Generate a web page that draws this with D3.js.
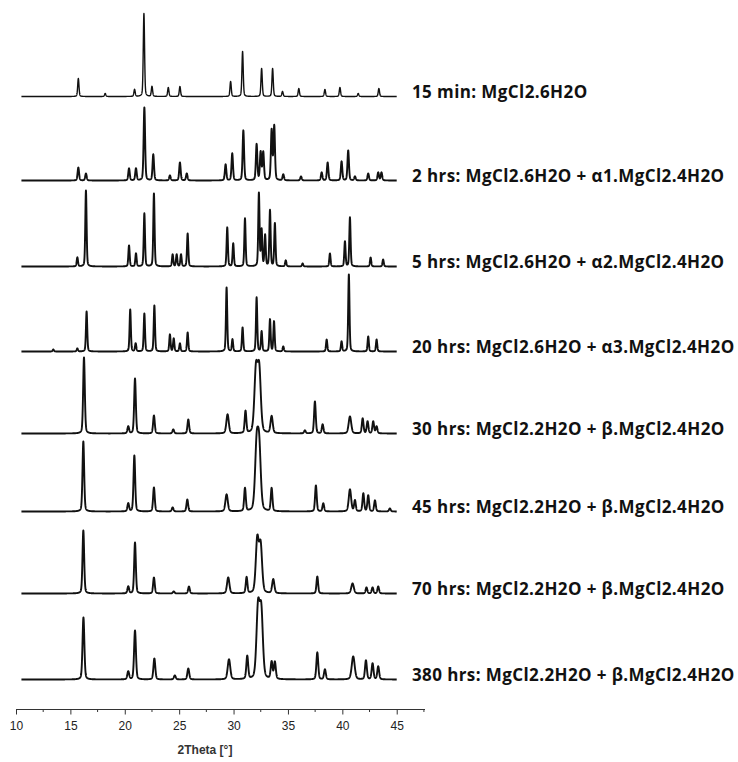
<!DOCTYPE html>
<html lang="en">
<head>
    <meta charset="UTF-8">
    <title>XRD patterns MgCl2 hydrates</title>
    <script src="https://d3js.org/d3.v7.min.js"></script>
    <style>
        body { margin: 0; background: #fff; }
    </style>
</head>
<body>
    <script>
        var w = 738;
        var h = 762;

        // sample labels, top to bottom
        var labels = [
            "15 min: MgCl2.6H2O",
            "2 hrs: MgCl2.6H2O + \u03b11.MgCl2.4H2O",
            "5 hrs: MgCl2.6H2O + \u03b12.MgCl2.4H2O",
            "20 hrs: MgCl2.6H2O + \u03b13.MgCl2.4H2O",
            "30 hrs: MgCl2.2H2O + \u03b2.MgCl2.4H2O",
            "45 hrs: MgCl2.2H2O + \u03b2.MgCl2.4H2O",
            "70 hrs: MgCl2.2H2O + \u03b2.MgCl2.4H2O",
            "380 hrs: MgCl2.2H2O + \u03b2.MgCl2.4H2O"
        ];

        // vertical offset of each pattern (stacking, in intensity units)
        var offsets = [0, 84, 170, 255, 337, 415, 497, 583];

        // typical peak half width (deg) for each pattern
        var halfWidths = [0.07, 0.08, 0.07, 0.07, 0.09, 0.09, 0.09, 0.1];

        // peak lists [2theta, intensity, optional half width]
        var p15min = [[15.73, 18], [18.2, 3], [20.9, 7], [21.76, 83], [22.5, 10], [24.0, 9], [25.07, 10],
            [29.73, 15], [30.83, 45], [32.58, 28], [33.59, 28], [34.5, 5], [36.0, 8], [38.4, 7],
            [39.78, 9], [41.46, 3], [43.36, 8]];
        var p2hrs = [[15.73, 13], [16.43, 7], [20.39, 12], [21.03, 12], [21.8, 73], [22.62, 26], [24.15, 5],
            [25.07, 18], [25.7, 7], [29.27, 16], [29.88, 27], [30.9, 50], [32.12, 36], [32.49, 28],
            [32.73, 28], [33.5, 50], [33.74, 54], [34.57, 6], [36.2, 4], [38.1, 8], [38.65, 18],
            [39.93, 19], [40.54, 30], [41.16, 4], [42.38, 7], [43.3, 8], [43.6, 8]];
        var p5hrs = [[15.64, 9], [16.43, 76], [20.39, 21], [21.03, 13], [21.8, 53], [22.68, 73], [24.4, 12],
            [24.77, 12], [25.17, 12], [25.78, 33], [29.42, 39], [29.97, 23], [31.05, 48], [32.33, 73],
            [32.58, 36], [32.9, 31], [33.35, 56], [33.8, 43], [34.8, 6], [36.35, 3], [38.86, 13],
            [40.24, 25], [40.7, 49], [42.6, 9], [43.75, 7]];
        var p20hrs = [[13.43, 2], [15.64, 3], [16.49, 40], [20.5, 42], [21.0, 8], [21.8, 38], [22.72, 46],
            [24.15, 17], [24.5, 13], [25.07, 8], [25.78, 19], [29.36, 64], [29.9, 12], [30.83, 24],
            [32.12, 54], [32.58, 20], [33.35, 32], [33.72, 30], [34.57, 5], [38.56, 12], [39.93, 10],
            [40.6, 77], [42.38, 15], [43.15, 12]];
        var p30hrs = [[16.25, 76], [20.32, 7], [20.94, 55], [22.68, 18], [24.46, 4], [25.84, 14],
            [29.45, 19, 0.13], [31.1, 22], [32.06, 62, 0.17], [32.36, 62, 0.17], [33.5, 17, 0.12],
            [36.56, 3], [37.48, 32], [38.19, 9], [40.7, 17, 0.14], [41.87, 15], [42.32, 12],
            [42.84, 12], [43.15, 7]];
        var p45hrs = [[16.19, 70], [20.32, 8], [20.88, 56], [22.68, 24], [24.4, 4], [25.75, 12],
            [29.36, 17, 0.13], [31.05, 23], [32.12, 62, 0.17], [32.36, 60, 0.17], [33.5, 23],
            [37.57, 26], [38.25, 8], [40.7, 22, 0.13], [41.16, 11], [41.93, 18], [42.38, 16],
            [43.0, 11], [44.37, 3]];
        var p70hrs = [[16.19, 63], [20.32, 7], [20.94, 51], [22.68, 16], [24.5, 2], [25.9, 7],
            [29.51, 16, 0.13], [31.2, 16], [32.18, 53, 0.16], [32.49, 47, 0.16], [33.65, 14, 0.12],
            [37.7, 17], [40.94, 10, 0.14], [42.22, 6], [42.78, 6], [43.3, 7]];
        var p380hrs = [[16.2, 62], [20.32, 8], [20.94, 49], [22.72, 21], [24.6, 4], [25.84, 11],
            [29.58, 20, 0.14], [31.26, 23], [32.25, 70, 0.17], [32.55, 66, 0.17], [33.5, 17],
            [33.8, 17], [37.7, 27], [38.4, 10], [41.0, 23, 0.16], [42.17, 19], [42.78, 16], [43.3, 13]];

        var peakLists = [p15min, p2hrs, p5hrs, p20hrs, p30hrs, p45hrs, p70hrs, p380hrs];

        // x axis ticks
        var majorTicks = [10, 15, 20, 25, 30, 35, 40, 45];
        var minorTicks = [12.5, 17.5, 22.5, 27.5, 32.5, 37.5, 42.5, 47.5];
        var scanRange = [10.5, 45];

        var x = d3.scaleLinear().domain([10, 47.6]).range([16, 425]);
        // intensity units -> px, measured upward from the lowest baseline
        var y = d3.scaleLinear().domain([0, 700]).range([679.5, -20.5]);

        var svg = d3.select("body")
                    .append("svg")
                    .attr("width", w)
                    .attr("height", h)
                    .style("background", "#fff");

        // pseudo-voigt profile built from a peak list
        function profile(peaks, hw) {
            var pts = [];
            for (var t = scanRange[0]; t <= scanRange[1] + 1e-9; t += 0.01) {
                var s = 0;
                peaks.forEach(function(p) {
                    var g = p[2] || hw;
                    var d = (t - p[0]) / g;
                    s += p[1] * (0.7 * Math.exp(-0.693 * d * d) + 0.3 / (1 + d * d));
                });
                pts.push([t, s]);
            }
            return pts;
        }

        var line = d3.line()
                    .x(function(d) { return x(d[0]); });

        peakLists.forEach(function(peaks, i) {
            var off = offsets[7] - offsets[i];
            line.y(function(d) { return y(off + d[1]); });
            svg.append("path")
                .datum(profile(peaks, halfWidths[i]))
                .attr("d", line)
                .attr("fill", "none")
                .attr("stroke", "#111")
                .attr("stroke-width", i == 0 ? 1.4 : 1.9)
                .attr("stroke-linejoin", "round");
        });

        // labels on the right
        svg.selectAll("text.lbl")
            .data(labels)
            .join("text")
            .attr("class", "lbl")
            .attr("x", 412)
            .attr("y", function(d, i) { return y(offsets[7] - offsets[i]) + 1.5; })
            .style("font-family", "'Open Sans', Lato, sans-serif")
            .style("font-weight", "bold")
            .style("font-size", "17px")
            .style("letter-spacing", "0.4px")
            .style("fill", "#111")
            .text(function(d) { return d; });

        // x axis
        var axisY = 709.5;
        var gx = svg.append("g")
                    .attr("transform", "translate(0," + axisY + ")")
                    .call(d3.axisBottom(x).tickValues(majorTicks).tickSize(5).tickPadding(7));
        gx.select(".domain").attr("d", "M" + x(10) + ",0H" + x(47.6)).attr("stroke", "#333");
        gx.selectAll(".tick line").attr("stroke", "#333");
        gx.selectAll(".tick text")
            .style("font-family", "'Liberation Sans', Arial, sans-serif")
            .style("font-size", "12px")
            .style("fill", "#222");

        svg.append("g")
            .selectAll("line")
            .data(minorTicks)
            .join("line")
            .attr("x1", function(d) { return x(d); })
            .attr("x2", function(d) { return x(d); })
            .attr("y1", axisY)
            .attr("y2", axisY + 2.5)
            .attr("stroke", "#333");

        svg.append("text")
            .attr("x", 205)
            .attr("y", 754)
            .attr("text-anchor", "middle")
            .style("font-family", "'Liberation Sans', Arial, sans-serif")
            .style("font-size", "12px")
            .style("font-weight", "bold")
            .style("fill", "#333")
            .text("2Theta [\u00b0]");
    </script>
</body>
</html>
